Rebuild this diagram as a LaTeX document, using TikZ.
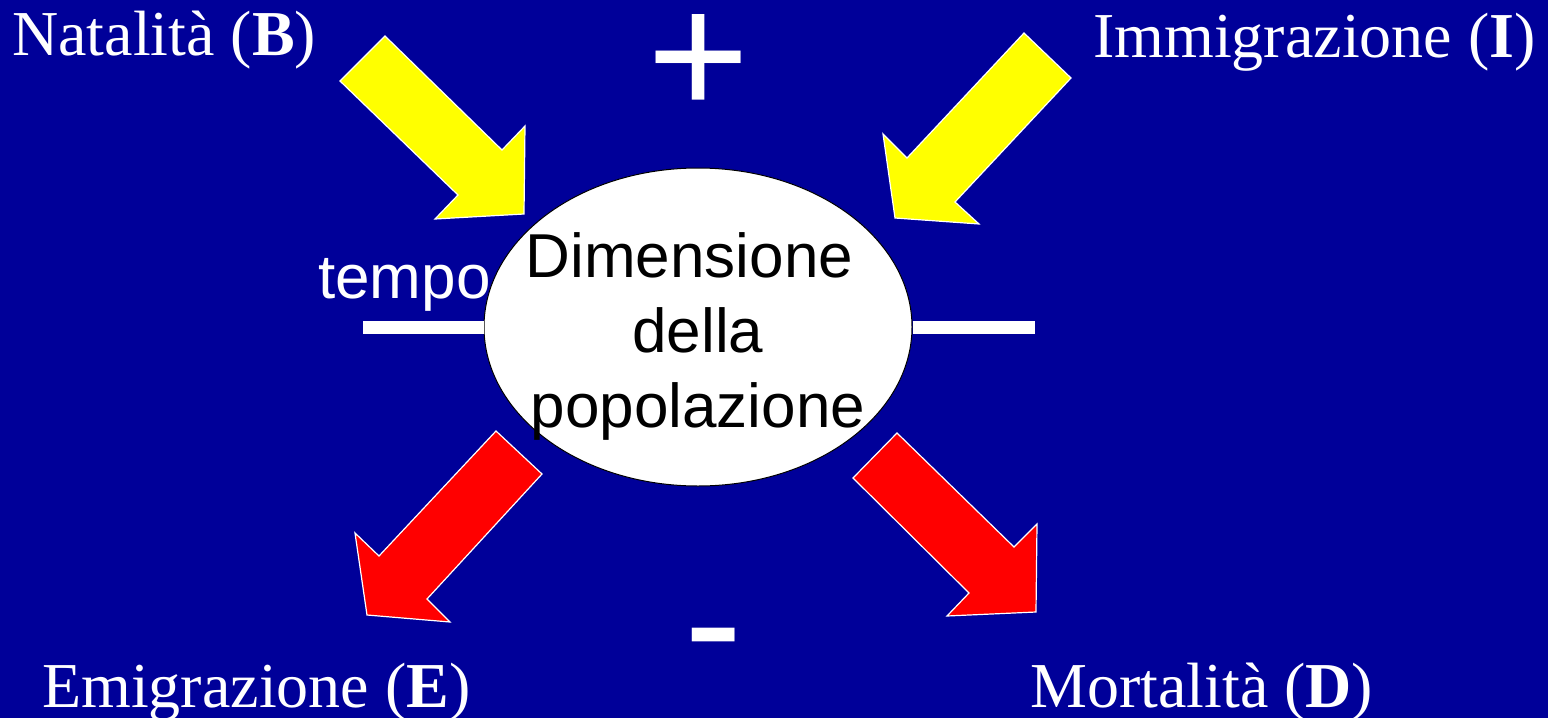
\documentclass[tikz,border=0pt]{standalone}
\usepackage{fontspec}
\setmainfont{Liberation Serif}
\setsansfont{Liberation Sans}
\usepackage{tikz}
\usetikzlibrary{shapes.geometric}
\definecolor{slideblue}{RGB}{0,0,153}
\definecolor{inflow}{RGB}{255,255,0}
\definecolor{outflow}{RGB}{255,0,0}
\tikzset{
  rate/.style={inner sep=0pt, text=white, font=\fontsize{64}{75}\selectfont},
  sign/.style={inner sep=0pt, text=white, font=\sffamily\fontsize{175}{175}\selectfont},
  inarrow/.style={fill=inflow, draw=white, line width=1.2pt, line join=miter},
  outarrow/.style={fill=outflow, draw=white, line width=1.2pt, line join=miter},
  axisline/.style={draw=white, line width=13pt},
}
\begin{document}
\begin{tikzpicture}[x=1pt,y=-1pt]
\fill[slideblue] (0,0) rectangle (1548,718);
\useasboundingbox (0,0) rectangle (1548,718);
% the two inflows
\draw[inarrow] (385,36) -- (502,150) -- (525,126) -- (524,214) -- (435,219) -- (458,195) -- (340,81) -- cycle;
\draw[inarrow] (1024,33) -- (1071,78) -- (955,202) -- (979,224) -- (895,218) -- (883,134) -- (907,158) -- cycle;
% the two outflows
\draw[outarrow] (496,431) -- (542,474) -- (427,599) -- (450,622) -- (367,615) -- (355,533) -- (379,556) -- cycle;
\draw[outarrow] (897,433) -- (853,478) -- (969,593) -- (947,616) -- (1036,612) -- (1037,524) -- (1014,547) -- cycle;
% population
\node[ellipse, draw=black, fill=white, line width=1pt, inner sep=0pt,
      minimum width=428pt, minimum height=318pt] (pop) at (698,327) {};
\node[align=center, inner sep=0pt, font=\sffamily\fontsize{62}{75}\selectfont]
  (size) at (698,336) {Dimensione\ \null\\della\\popolazione};
\coordinate (tstart) at (363,327);
\coordinate (tend) at (1035,327);
\draw[axisline] (tstart) -- (pop.west);
\draw[axisline] (pop.east) -- (tend);
\node[rate, font=\sffamily\fontsize{62}{75}\selectfont, anchor=base west] (time) at (318,298) {tempo};
% labels
\node[rate, anchor=base west] (B) at (12,55) {Natalità (\textbf{B})};
\node[rate, anchor=base west] (I) at (1093,57) {Immigrazione (\textbf{I})};
\node[rate, anchor=base west] (E) at (42,707) {Emigrazione (\textbf{E})};
\node[rate, anchor=base west] (D) at (1030,707) {Mortalità (\textbf{D})};
\node[sign] (plus) at (699,65) {+};
\node[sign] (minus) at (714,655) {-};
\end{tikzpicture}
\end{document}
